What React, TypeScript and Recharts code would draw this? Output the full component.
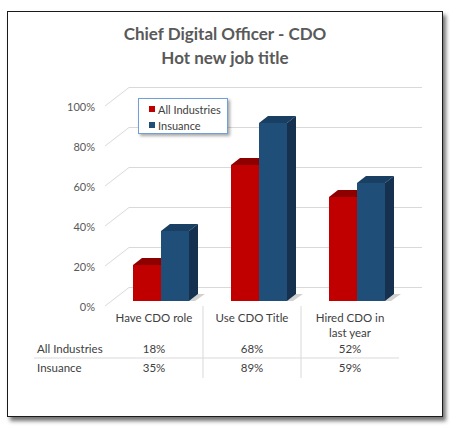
import React from 'react'
import { BarChart, Bar, XAxis, YAxis, CartesianGrid } from 'recharts'

// valores
const categories = ['Have CDO role', 'Use CDO Title', 'Hired CDO in last year']
const allIndustries = [18, 68, 52]
const insurance = [35, 89, 59]
const yTicks = [0, 20, 40, 60, 80, 100]
const seriesNames = ['All Industries', 'Insuance']

const data = categories.map((name, i) => ({
  name,
  all: allIndustries[i],
  ins: insurance[i],
}))

const FONT = 'Lato, "Open Sans", sans-serif'
const DEPTH_X = 9
const DEPTH_Y = 7

const COLORS = {
  all: { front: '#C00000', top: '#8E0000', side: '#7A0000' },
  ins: { front: '#1F4E79', top: '#193F62', side: '#15314F' },
}

// corta la etiqueta en líneas de como mucho n caracteres
const wrap = (s: string, n: number) => {
  const lines: string[] = []
  let cur = ''
  s.split(' ').forEach((w) => {
    const next = cur ? `${cur} ${w}` : w
    if (next.length > n && cur) {
      lines.push(cur)
      cur = w
    } else cur = next
  })
  if (cur) lines.push(cur)
  return lines
}

// barra 3D: cara frontal, tapa y lateral
const make3DBar = (c: { front: string; top: string; side: string }) => (props: any) => {
  const { x, y, width, height } = props
  if (height == null || width == null) return <g />
  const bx = x + width
  const by = y + height
  return (
    <g>
      <polygon
        points={`${bx},${by} ${bx + DEPTH_X},${by - DEPTH_Y} ${bx + DEPTH_X + 7},${by - DEPTH_Y} ${bx + 6},${by}`}
        fill="#000"
        opacity={0.18}
      />
      <rect x={x} y={y} width={width} height={height} fill={c.front} />
      <polygon
        points={`${x},${y} ${x + DEPTH_X},${y - DEPTH_Y} ${bx + DEPTH_X},${y - DEPTH_Y} ${bx},${y}`}
        fill={c.top}
      />
      <polygon
        points={`${bx},${y} ${bx + DEPTH_X},${y - DEPTH_Y} ${bx + DEPTH_X},${by - DEPTH_Y} ${bx},${by}`}
        fill={c.side}
      />
    </g>
  )
}

// líneas de la pared del fondo
const GridLine = (props: any) => {
  const y = Number(props.y1)
  return (
    <g>
      <line x1={105} y1={y + 5} x2={129} y2={y - 13.5} stroke="#D9D9D9" strokeWidth={1} />
      <line x1={129} y1={y - 13.5} x2={422} y2={y - 13.5} stroke="#D9D9D9" strokeWidth={1} />
    </g>
  )
}

const YTick = (props: any) => {
  const { y, payload } = props
  return (
    <text x={95} y={y + 5} textAnchor="end" dominantBaseline="central" fontSize={11} fill="#595959" fontFamily={FONT}>
      {`${payload.value}%`}
    </text>
  )
}

// tabla de datos bajo el eje X
const TableTick = (props: any) => {
  const { x, index, payload } = props
  const cx = x - 7
  const last = index === categories.length - 1
  const textProps = { fontSize: 11.5, fill: '#404040', fontFamily: FONT }
  return (
    <g>
      {wrap(String(payload.value), 13).map((line, i) => (
        <text key={i} x={cx} y={317 + i * 15} textAnchor="middle" dominantBaseline="central" {...textProps}>
          {line}
        </text>
      ))}
      <text x={cx} y={348} textAnchor="middle" dominantBaseline="central" {...textProps}>
        {`${allIndustries[index]}%`}
      </text>
      <text x={cx} y={367} textAnchor="middle" dominantBaseline="central" {...textProps}>
        {`${insurance[index]}%`}
      </text>
      <line x1={index === 0 ? 34 : cx - 49} y1={358} x2={cx + 49} y2={358} stroke="#D9D9D9" />
      {!last && <line x1={cx + 49} y1={306} x2={cx + 49} y2={378} stroke="#D9D9D9" />}
      {index === 0 && (
        <>
          <text x={37} y={348} dominantBaseline="central" {...textProps}>{seriesNames[0]}</text>
          <text x={37} y={367} dominantBaseline="central" {...textProps}>{seriesNames[1]}</text>
        </>
      )}
    </g>
  )
}

const LegendBox = () => (
  <div
    style={{
      position: 'absolute',
      left: 138,
      top: 98,
      width: 90,
      height: 36,
      border: '1px solid #6FA0D8',
      boxShadow: '2px 2px 3px rgba(0,0,0,0.35)',
      background: '#fff',
      fontFamily: FONT,
      fontSize: 11,
      color: '#404040',
      boxSizing: 'border-box',
      paddingTop: 2,
    }}
  >
    {[COLORS.all.front, COLORS.ins.front].map((c, i) => (
      <div key={i} style={{ display: 'flex', alignItems: 'center', height: 16, paddingLeft: 10 }}>
        <span style={{ width: 6, height: 6, background: c, marginRight: 3, display: 'inline-block' }} />
        {seriesNames[i]}
      </div>
    ))}
  </div>
)

export default function App() {
  return (
    <div style={{ position: 'absolute', left: 0, top: 0, width: 450, height: 430, background: '#fff' }}>
      <div
        style={{
          position: 'absolute',
          left: 7,
          top: 11,
          width: 436,
          height: 406,
          boxSizing: 'border-box',
          border: '1px solid #1A1A1A',
          boxShadow: '3px 4px 4px rgba(0,0,0,0.55)',
          background: '#fff',
        }}
      />
      <div
        style={{
          position: 'absolute',
          left: 0,
          top: 22,
          width: 450,
          textAlign: 'center',
          fontFamily: FONT,
          fontWeight: 'bold',
          fontSize: 17,
          lineHeight: '24px',
          color: '#595959',
        }}
      >
        Chief Digital Officer - CDO
        <br />
        Hot new job title
      </div>
      <div style={{ position: 'absolute', left: 0, top: 0 }}>
        <BarChart
          width={450}
          height={430}
          data={data}
          margin={{ top: 101, right: 44, bottom: 9, left: 0 }}
          barSize={28}
          barGap={0}
        >
          <CartesianGrid vertical={false} horizontal={(p: any) => <GridLine key={p.key} {...p} />} />
          <XAxis dataKey="name" axisLine={false} tickLine={false} height={120} interval={0} tick={(p: any) => <TableTick {...p} />} />
          <YAxis domain={[0, 100]} ticks={yTicks} axisLine={false} tickLine={false} width={112} tick={(p: any) => <YTick {...p} />} />
          <Bar dataKey="all" name={seriesNames[0]} fill={COLORS.all.front} shape={make3DBar(COLORS.all)} isAnimationActive={false} />
          <Bar dataKey="ins" name={seriesNames[1]} fill={COLORS.ins.front} shape={make3DBar(COLORS.ins)} isAnimationActive={false} />
        </BarChart>
      </div>
      <LegendBox />
    </div>
  )
}
